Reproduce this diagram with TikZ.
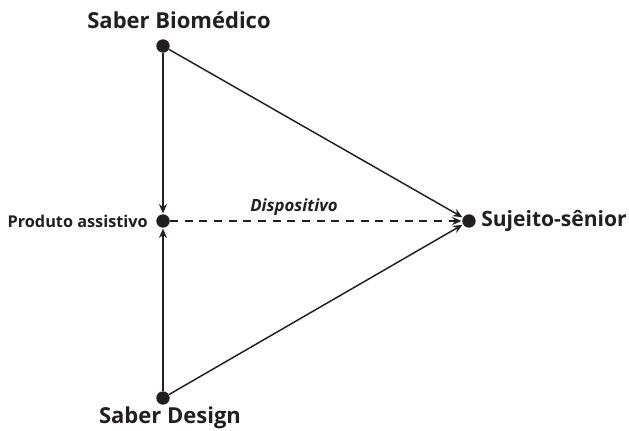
\documentclass[tikz,border=0pt]{standalone}
\usepackage{fontspec}
\setmainfont{Open Sans}
\usetikzlibrary{arrows.meta}
\definecolor{ink}{HTML}{231F20}
\begin{document}
\begin{tikzpicture}[x=0.75pt,y=-0.75pt,
  dot/.style={circle,fill=ink,inner sep=0pt,minimum size=10pt},
  conn/.style={draw=ink,line width=1.1pt,-{Stealth[length=7pt,width=6pt]},shorten >=0.5pt},
  biglabel/.style={font=\bfseries\fontsize{16.5}{19}\selectfont,text=ink,inner sep=0pt},
  smalllabel/.style={font=\bfseries\fontsize{12.2}{14}\selectfont,text=ink,inner sep=0pt}]
\useasboundingbox (0,0) rectangle (629,431);
\node[dot] (bio) at (163,46) {};
\node[dot] (prod) at (163,221) {};
\node[dot] (des) at (163,398) {};
\node[dot] (suj) at (469,221) {};
\node[biglabel] (tbio) at (179,20) {Saber Biomédico};
\node[biglabel] (tdes) at (170,418) {Saber Design};
\node[biglabel,anchor=west,font=\bfseries\fontsize{15.8}{19}\selectfont] (tsuj) at (481,221) {Sujeito-sênior};
\node[smalllabel,anchor=east] (tprod) at (148,221) {Produto assistivo};
\draw[conn] (bio) -- (prod);
\draw[conn] (des) -- (prod);
\draw[conn] (bio) -- (suj);
\draw[conn] (des) -- (suj);
\draw[conn,dashed,dash pattern=on 6pt off 5pt] (prod) -- (suj);
\node[font=\bfseries\itshape\fontsize{12.6}{14}\selectfont,text=ink,inner sep=0pt] (tdisp) at (294,207) {Dispositivo};
\end{tikzpicture}
\end{document}
